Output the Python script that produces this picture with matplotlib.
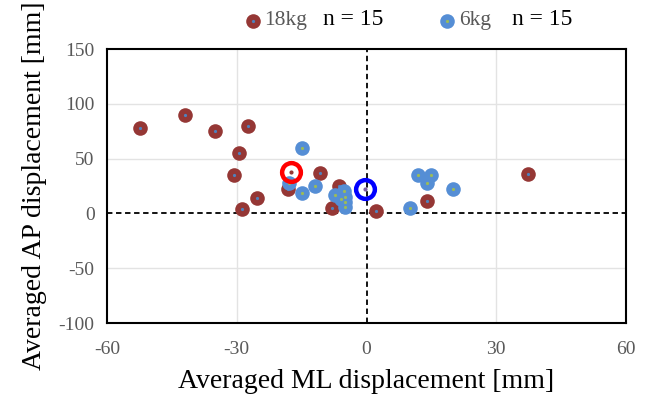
import matplotlib
matplotlib.use("Agg")
import matplotlib.pyplot as plt

plt.rcParams['font.family'] = ['Liberation Serif', 'DejaVu Serif']
plt.rcParams['axes.unicode_minus'] = False

# 18kg group (ML, AP) in mm
ml_18 = [-52.4, -42.0, -35.0, -27.4, -29.5, -30.6, -28.8, -25.3, -18.2, -10.8, -6.4, -8.0, 2.2, 14.0, 37.3]
ap_18 = [78, 90, 75, 80, 55, 35, 4, 14, 22, 37, 25, 5, 2, 11, 36]

# 6kg group
ml_6 = [-15.0, -18.0, -15.0, -12.0, -7.2, -5.2, -5.0, -5.0, -5.0, -6.0, 12.0, 15.0, 14.0, 20.0, 10.0]
ap_6 = [60, 28, 19, 25, 17, 20, 15, 10, 6, 13, 35, 35, 28, 22, 5]

# group means
mean_18 = (-17.5, 37.6)
mean_6 = (-0.3, 22.3)

xticks = [-60, -30, 0, 30, 60]
yticks = [-100, -50, 0, 50, 100, 150]

legend_labels = ['18kg', '6kg']
n_labels = ['n = 15', 'n = 15']

c18 = '#953735'
c6 = '#558ED5'
dot18 = '#4F81BD'
dot6 = '#9BBB59'

fig = plt.figure(figsize=(6.51, 4.03), dpi=100)
ax = fig.add_axes([107/651, 1-323/403, (626-107)/651, (323-49)/403])

ax.set_xlim(-60, 60)
ax.set_ylim(-100, 150)
ax.set_xticks(xticks)
ax.set_yticks(yticks)

for x in xticks:
    if x not in (-60, 0, 60):
        ax.axvline(x, color='#E3E3E3', lw=1, zorder=0)
for y in yticks:
    if y not in (-100, 0, 150):
        ax.axhline(y, color='#E3E3E3', lw=1, zorder=0)

ax.axhline(0, color='black', lw=1.3, ls=(0, (3, 2)), zorder=1)
ax.axvline(0, color='black', lw=1.3, ls=(0, (3, 2)), zorder=1)

ms_big = 10.5
ax.plot(ml_18, ap_18, 'o', ms=ms_big, color=c18, mec='none', zorder=3)
ax.plot(ml_18, ap_18, 'o', ms=2.3, color=dot18, mec='none', zorder=3.1)
ax.plot(ml_6, ap_6, 'o', ms=ms_big, color=c6, mec='none', zorder=4)
ax.plot(ml_6, ap_6, 'o', ms=2.3, color=dot6, mec='none', zorder=4.1)

ax.plot([mean_18[0]], [mean_18[1]], 'o', ms=13.5, mfc='none', mec='#FF0000', mew=3.2, zorder=6)
ax.plot([mean_18[0]], [mean_18[1]], 'o', ms=3, color=c18, mec='none', zorder=6)
ax.plot([mean_6[0]], [mean_6[1]], 'o', ms=13.5, mfc='none', mec='#0000FF', mew=3.2, zorder=6)
ax.plot([mean_6[0]], [mean_6[1]], 'o', ms=3, color='#7F5FA0', mec='none', zorder=6)

for s in ax.spines.values():
    s.set_color('black')
    s.set_linewidth(1.5)

ax.tick_params(axis='both', length=0, labelsize=14, labelcolor='#595959')
ax.tick_params(axis='x', pad=13)
ax.tick_params(axis='y', pad=9)

ax.set_xlabel('Averaged ML displacement [mm]', fontsize=20, labelpad=8)
ax.set_ylabel('Averaged AP displacement [mm]', fontsize=20, labelpad=8)

# legend drawn in figure coordinates
lx = [253/651, 447/651]
tx = [264/651, 459/651]
nx = [323/651, 512/651]
ly = 1 - 21/403
cols = [c18, c6]
dots = [dot18, dot6]
for i in range(2):
    fig.lines.append(plt.Line2D([lx[i]], [ly], marker='o', ms=ms_big, color=cols[i], mec='none',
                                transform=fig.transFigure))
    fig.lines.append(plt.Line2D([lx[i]], [ly], marker='o', ms=2.3, color=dots[i], mec='none',
                                transform=fig.transFigure))
    fig.text(tx[i], ly, legend_labels[i], fontsize=15.5, color='#595959', va='center', ha='left')
    fig.text(nx[i], ly + 0.003, n_labels[i], fontsize=17, color='black', va='center', ha='left')

fig.savefig('out.png', dpi=100)
